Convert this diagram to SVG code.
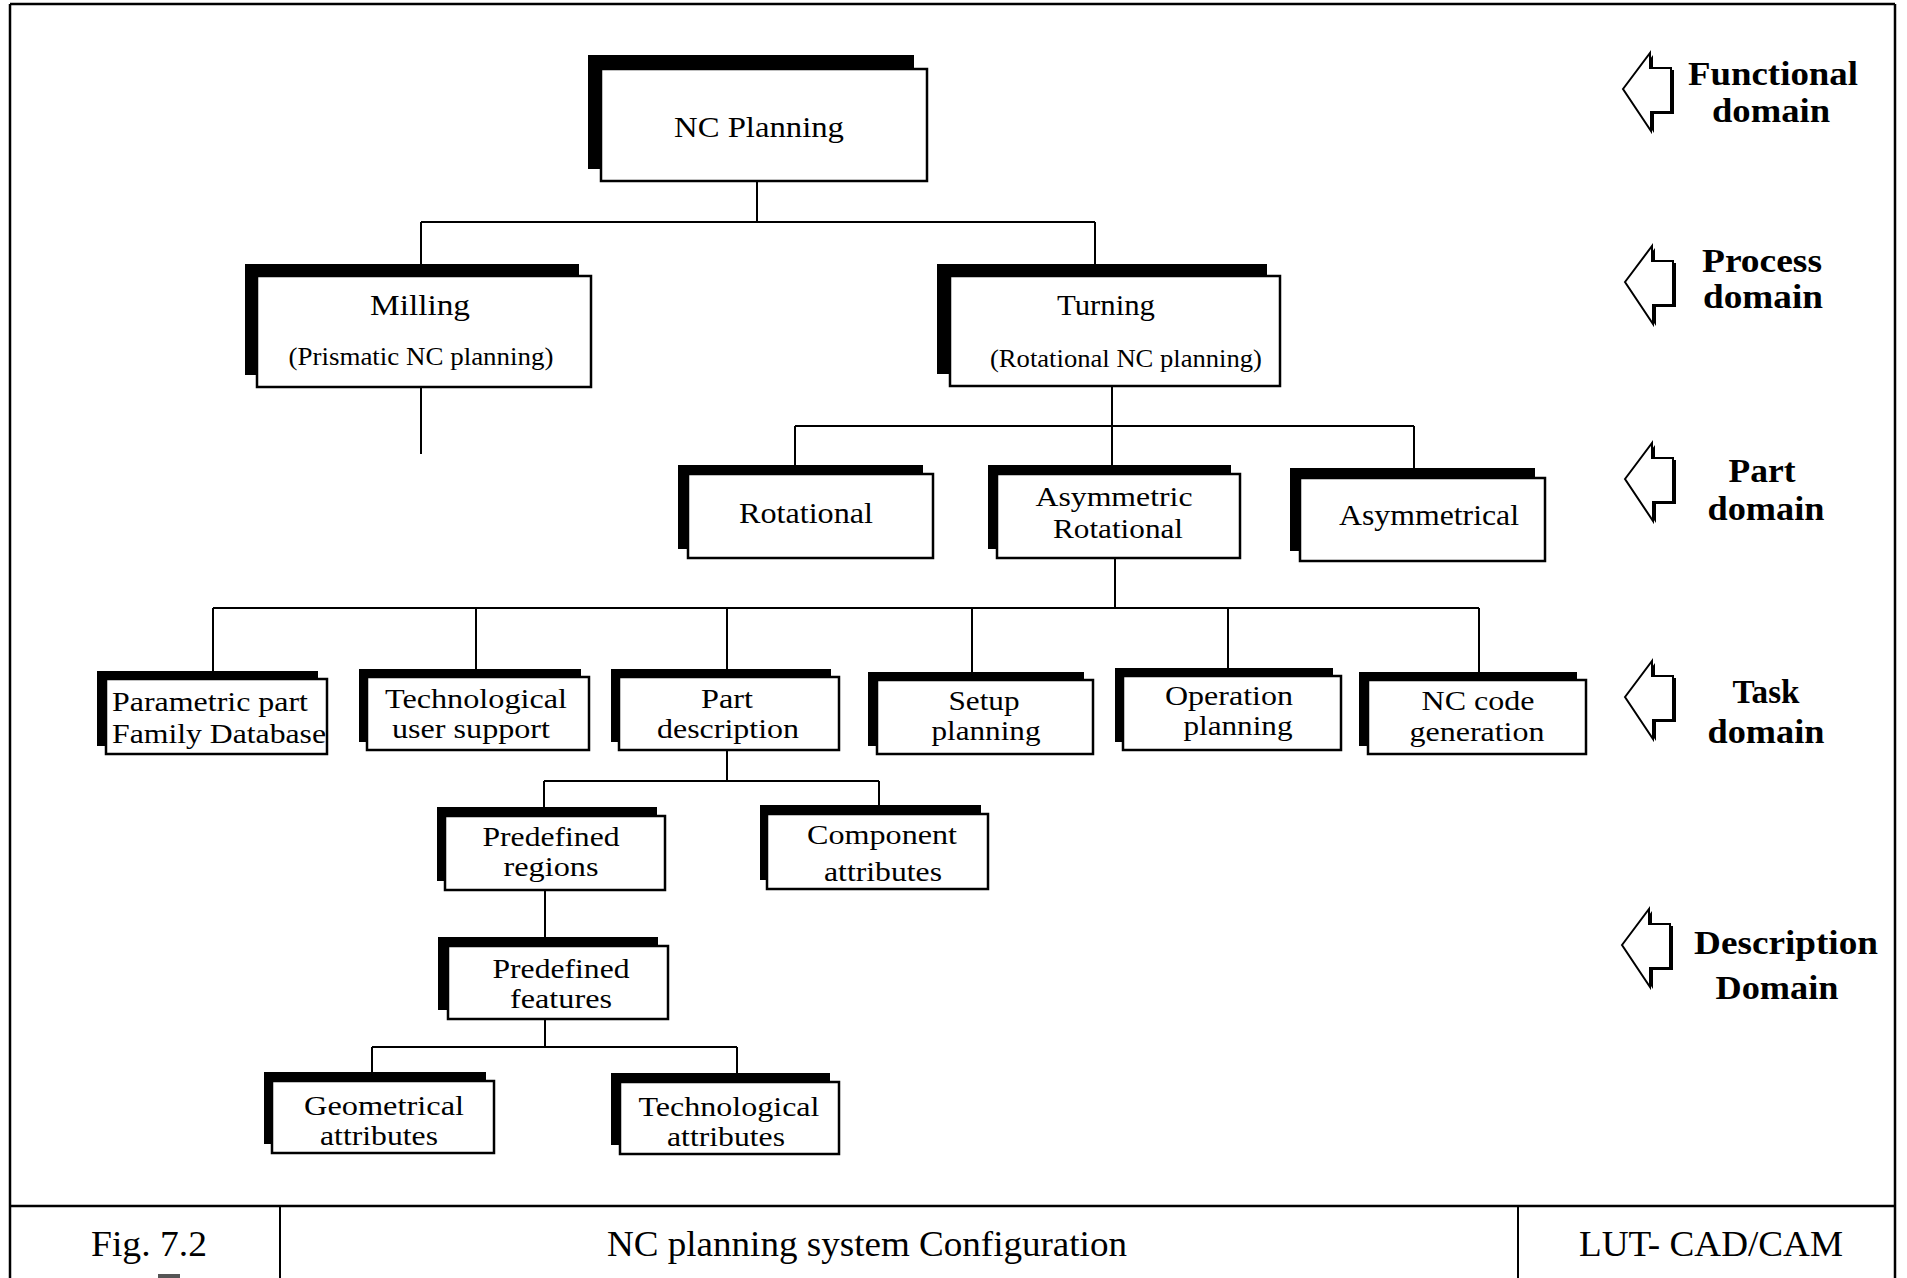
<svg xmlns="http://www.w3.org/2000/svg" width="1907" height="1278" viewBox="0 0 1907 1278">
  <style>
    .sh { fill: #000; }
    .bx { fill: #fff; stroke: #000; stroke-width: 2.5; }
    .t { font-family: "Liberation Serif", "Times New Roman", serif; font-size: 30px; fill: #000; text-anchor: middle; }
    .ts { font-size: 25px; }
    .t2 { font-size: 27px; }
    .dom { font-family: "Liberation Serif", "Times New Roman", serif; font-size: 33px; font-weight: bold; fill: #000; text-anchor: middle; }
    .ft { font-family: "Liberation Serif", "Times New Roman", serif; font-size: 35px; fill: #000; text-anchor: middle; }
    .ln { fill: none; stroke: #000; stroke-width: 2; }
    .frame { fill: none; stroke: #000; stroke-width: 2.5; }
    .arw { fill: #fff; stroke: #000; stroke-width: 2; stroke-linejoin: miter; }
    .arwsh { fill: #000; }
  </style>
  <defs>
    <!-- hollow left-pointing block arrow, tip at origin -->
    <path id="domArrow" d="M0,0 L27,-36 L27,-21 L48,-21 L48,23 L28,23 L28,42 Z"/>
  </defs>

  <rect width="1907" height="1278" fill="#fff"/>

  <!-- page frame and footer -->
  <g id="frame">
    <line class="frame" x1="10" y1="4" x2="1895" y2="4"/>
    <line class="frame" x1="10" y1="4" x2="10" y2="1278"/>
    <line class="frame" x1="1895" y1="4" x2="1895" y2="1278"/>
    <line class="frame" x1="10" y1="1206" x2="1895" y2="1206"/>
    <line class="ln" x1="280" y1="1206" x2="280" y2="1278"/>
    <line class="ln" x1="1518" y1="1206" x2="1518" y2="1278"/>
    <text class="ft" x="149" y="1256" textLength="116" lengthAdjust="spacingAndGlyphs">Fig. 7.2</text>
    <rect x="158" y="1274" width="22" height="4" fill="#555"/>
    <text class="ft" x="867" y="1256" textLength="520" lengthAdjust="spacingAndGlyphs">NC planning system Configuration</text>
    <text class="ft" x="1711" y="1256" textLength="264" lengthAdjust="spacingAndGlyphs">LUT- CAD/CAM</text>
  </g>

  <!-- connectors -->
  <g id="connectors">
    <path class="ln" d="M757,181 V222 M421,222 H1095 M421,222 V264 M1095,222 V264"/>
    <path class="ln" d="M421,387 V454"/>
    <path class="ln" d="M1112,386 V426 M795,426 H1414 M795,426 V465 M1112,426 V465 M1414,426 V469"/>
    <path class="ln" d="M1115,558 V608 M213,608 H1479 M213,608 V671 M476,608 V669 M727,608 V669 M972,608 V672 M1228,608 V668 M1479,608 V672"/>
    <path class="ln" d="M727,750 V781 M544,781 H879 M544,781 V807 M879,781 V805"/>
    <path class="ln" d="M545,890 V937"/>
    <path class="ln" d="M545,1019 V1047 M372,1047 H737 M372,1047 V1072 M737,1047 V1073"/>
  </g>

  <!-- functional level -->
  <g id="nc-planning">
    <rect class="sh" x="588" y="55" width="326" height="114"/>
    <rect class="bx" x="601" y="69" width="326" height="112"/>
    <text class="t" x="759" y="137" textLength="170" lengthAdjust="spacingAndGlyphs">NC Planning</text>
  </g>

  <!-- process level -->
  <g id="milling">
    <rect class="sh" x="245" y="264" width="334" height="111"/>
    <rect class="bx" x="257" y="276" width="334" height="111"/>
    <text class="t" x="420" y="315" textLength="100" lengthAdjust="spacingAndGlyphs">Milling</text>
    <text class="t ts" x="421" y="365" textLength="265" lengthAdjust="spacingAndGlyphs">(Prismatic NC planning)</text>
  </g>
  <g id="turning">
    <rect class="sh" x="937" y="264" width="330" height="110"/>
    <rect class="bx" x="950" y="276" width="330" height="110"/>
    <text class="t" x="1106" y="315" textLength="98" lengthAdjust="spacingAndGlyphs">Turning</text>
    <text class="t ts" x="1126" y="367" textLength="272" lengthAdjust="spacingAndGlyphs">(Rotational NC planning)</text>
  </g>

  <!-- part level -->
  <g id="rotational">
    <rect class="sh" x="678" y="465" width="245" height="84"/>
    <rect class="bx" x="688" y="474" width="245" height="84"/>
    <text class="t" x="806" y="523" textLength="134" lengthAdjust="spacingAndGlyphs">Rotational</text>
  </g>
  <g id="asymmetric-rotational">
    <rect class="sh" x="988" y="465" width="243" height="84"/>
    <rect class="bx" x="997" y="474" width="243" height="84"/>
    <text class="t t2" x="1114" y="506" textLength="157" lengthAdjust="spacingAndGlyphs">Asymmetric</text>
    <text class="t t2" x="1118" y="538" textLength="130" lengthAdjust="spacingAndGlyphs">Rotational</text>
  </g>
  <g id="asymmetrical">
    <rect class="sh" x="1290" y="468" width="245" height="83"/>
    <rect class="bx" x="1300" y="478" width="245" height="83"/>
    <text class="t" x="1429" y="525" textLength="180" lengthAdjust="spacingAndGlyphs">Asymmetrical</text>
  </g>

  <!-- task level -->
  <g id="parametric-part">
    <rect class="sh" x="97" y="671" width="221" height="75"/>
    <rect class="bx" x="106" y="679" width="221" height="75"/>
    <text class="t t2" x="112" y="711" style="text-anchor:start" textLength="196" lengthAdjust="spacingAndGlyphs">Parametric part</text>
    <text class="t t2" x="112" y="743" style="text-anchor:start" textLength="214" lengthAdjust="spacingAndGlyphs">Family Database</text>
  </g>
  <g id="technological-support">
    <rect class="sh" x="359" y="669" width="222" height="73"/>
    <rect class="bx" x="367" y="677" width="222" height="73"/>
    <text class="t t2" x="476" y="708" textLength="182" lengthAdjust="spacingAndGlyphs">Technological</text>
    <text class="t t2" x="471" y="738" textLength="158" lengthAdjust="spacingAndGlyphs">user support</text>
  </g>
  <g id="part-description">
    <rect class="sh" x="611" y="669" width="220" height="73"/>
    <rect class="bx" x="619" y="677" width="220" height="73"/>
    <text class="t t2" x="727" y="708" textLength="52" lengthAdjust="spacingAndGlyphs">Part</text>
    <text class="t t2" x="728" y="738" textLength="142" lengthAdjust="spacingAndGlyphs">description</text>
  </g>
  <g id="setup-planning">
    <rect class="sh" x="868" y="672" width="216" height="74"/>
    <rect class="bx" x="877" y="680" width="216" height="74"/>
    <text class="t t2" x="984" y="710" textLength="71" lengthAdjust="spacingAndGlyphs">Setup</text>
    <text class="t t2" x="986" y="740" textLength="109" lengthAdjust="spacingAndGlyphs">planning</text>
  </g>
  <g id="operation-planning">
    <rect class="sh" x="1115" y="668" width="218" height="74"/>
    <rect class="bx" x="1123" y="676" width="218" height="74"/>
    <text class="t t2" x="1229" y="705" textLength="128" lengthAdjust="spacingAndGlyphs">Operation</text>
    <text class="t t2" x="1238" y="735" textLength="109" lengthAdjust="spacingAndGlyphs">planning</text>
  </g>
  <g id="nc-code-generation">
    <rect class="sh" x="1359" y="672" width="218" height="74"/>
    <rect class="bx" x="1368" y="680" width="218" height="74"/>
    <text class="t t2" x="1478" y="710" textLength="113" lengthAdjust="spacingAndGlyphs">NC code</text>
    <text class="t t2" x="1477" y="741" textLength="135" lengthAdjust="spacingAndGlyphs">generation</text>
  </g>

  <!-- description level -->
  <g id="predefined-regions">
    <rect class="sh" x="437" y="807" width="220" height="74"/>
    <rect class="bx" x="445" y="816" width="220" height="74"/>
    <text class="t t2" x="551" y="846" textLength="137" lengthAdjust="spacingAndGlyphs">Predefined</text>
    <text class="t t2" x="551" y="876" textLength="95" lengthAdjust="spacingAndGlyphs">regions</text>
  </g>
  <g id="component-attributes">
    <rect class="sh" x="760" y="805" width="221" height="75"/>
    <rect class="bx" x="767" y="814" width="221" height="75"/>
    <text class="t t2" x="882" y="844" textLength="150" lengthAdjust="spacingAndGlyphs">Component</text>
    <text class="t t2" x="883" y="881" textLength="118" lengthAdjust="spacingAndGlyphs">attributes</text>
  </g>
  <g id="predefined-features">
    <rect class="sh" x="438" y="937" width="220" height="73"/>
    <rect class="bx" x="448" y="946" width="220" height="73"/>
    <text class="t t2" x="561" y="978" textLength="137" lengthAdjust="spacingAndGlyphs">Predefined</text>
    <text class="t t2" x="561" y="1008" textLength="102" lengthAdjust="spacingAndGlyphs">features</text>
  </g>
  <g id="geometrical-attributes">
    <rect class="sh" x="264" y="1072" width="222" height="72"/>
    <rect class="bx" x="272" y="1081" width="222" height="72"/>
    <text class="t t2" x="384" y="1115" textLength="160" lengthAdjust="spacingAndGlyphs">Geometrical</text>
    <text class="t t2" x="379" y="1145" textLength="118" lengthAdjust="spacingAndGlyphs">attributes</text>
  </g>
  <g id="technological-attributes">
    <rect class="sh" x="611" y="1073" width="219" height="72"/>
    <rect class="bx" x="620" y="1082" width="219" height="72"/>
    <text class="t t2" x="729" y="1116" textLength="181" lengthAdjust="spacingAndGlyphs">Technological</text>
    <text class="t t2" x="726" y="1146" textLength="118" lengthAdjust="spacingAndGlyphs">attributes</text>
  </g>

  <!-- domain legend -->
  <g id="functional-domain">
    <use href="#domArrow" class="arwsh" x="1626" y="91"/>
    <use href="#domArrow" class="arw" x="1623" y="89"/>
    <text class="dom" x="1773" y="85" textLength="170" lengthAdjust="spacingAndGlyphs">Functional</text>
    <text class="dom" x="1771" y="122" textLength="118" lengthAdjust="spacingAndGlyphs">domain</text>
  </g>
  <g id="process-domain">
    <use href="#domArrow" class="arwsh" x="1628" y="284"/>
    <use href="#domArrow" class="arw" x="1625" y="282"/>
    <text class="dom" x="1762" y="272" textLength="120" lengthAdjust="spacingAndGlyphs">Process</text>
    <text class="dom" x="1763" y="308" textLength="120" lengthAdjust="spacingAndGlyphs">domain</text>
  </g>
  <g id="part-domain">
    <use href="#domArrow" class="arwsh" x="1628" y="481"/>
    <use href="#domArrow" class="arw" x="1625" y="479"/>
    <text class="dom" x="1762" y="482" textLength="67" lengthAdjust="spacingAndGlyphs">Part</text>
    <text class="dom" x="1766" y="520" textLength="117" lengthAdjust="spacingAndGlyphs">domain</text>
  </g>
  <g id="task-domain">
    <use href="#domArrow" class="arwsh" x="1628" y="699"/>
    <use href="#domArrow" class="arw" x="1625" y="697"/>
    <text class="dom" x="1766" y="703" textLength="67" lengthAdjust="spacingAndGlyphs">Task</text>
    <text class="dom" x="1766" y="743" textLength="117" lengthAdjust="spacingAndGlyphs">domain</text>
  </g>
  <g id="description-domain">
    <use href="#domArrow" class="arwsh" x="1625" y="947"/>
    <use href="#domArrow" class="arw" x="1622" y="945"/>
    <text class="dom" x="1786" y="954" textLength="184" lengthAdjust="spacingAndGlyphs">Description</text>
    <text class="dom" x="1777" y="999" textLength="123" lengthAdjust="spacingAndGlyphs">Domain</text>
  </g>
</svg>
